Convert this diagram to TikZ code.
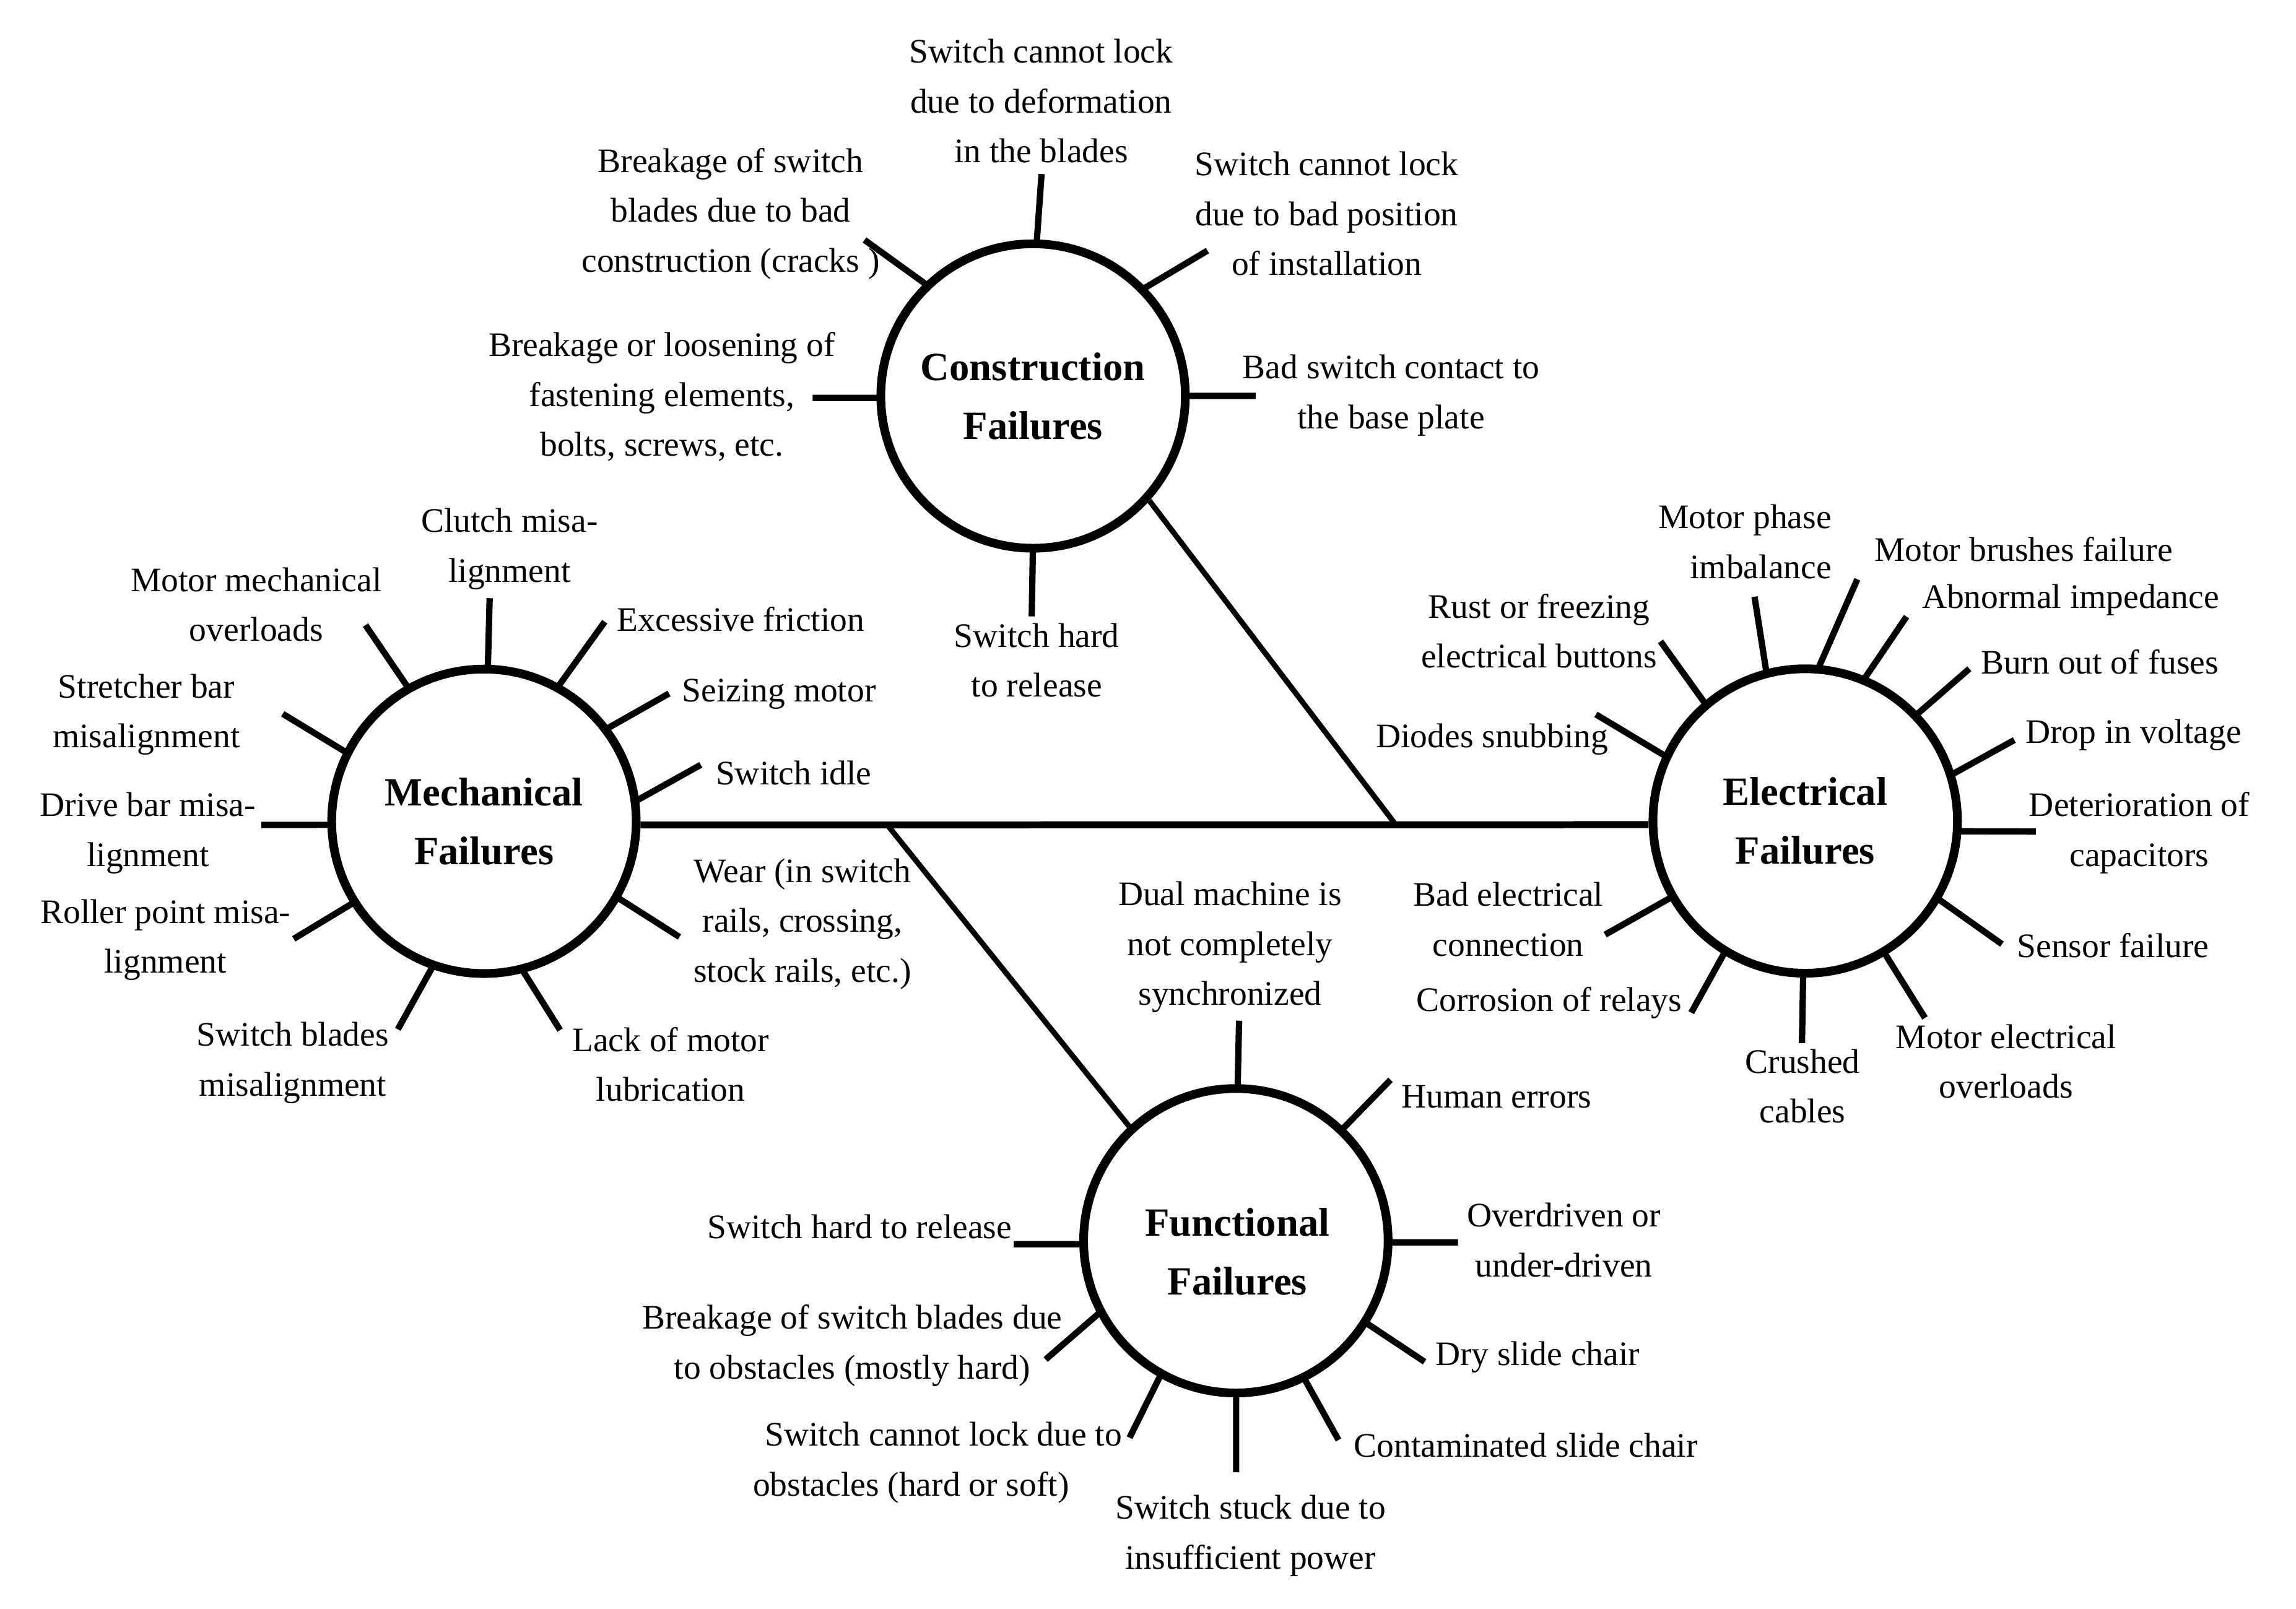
\documentclass[tikz,border=0pt]{standalone}
\usepackage{fontspec}
\setmainfont{Liberation Serif}
\usetikzlibrary{calc}
\newcommand\spk[3]{\draw[spokeline] ($(#1.center)!2.42cm!(#2)$) -- (#3);}
\begin{document}
\begin{tikzpicture}[x=0.023648cm, y=-0.023648cm,
  hub/.style={circle, draw, line width=4pt, minimum size=4.918cm, inner sep=0pt, align=center, font=\bfseries\fontsize{18.4}{27}\selectfont},
  hubtext/.style={inner sep=0pt, align=center, font=\bfseries\fontsize{18.4}{27}\selectfont},
  lbl/.style={align=center, inner sep=0pt, font=\fontsize{15.8}{22.9}\selectfont},
  spokeline/.style={line width=2.9pt},
  trunk/.style={line width=3.2pt},
  branch/.style={line width=2.5pt}]
\useasboundingbox[fill=white] (0,0) rectangle (1568,1099);

% hubs
\node[hub] (con) at (705.5,270.5) {Construction\\Failures};
\node[hub] (mec) at (330.5,561) {Mechanical\\Failures};
\node[hub] (ele) at (1232.8,560.8) {Electrical\\Failures};
\node[hub] (fun) at (844,847.5) {};
\node[hubtext] (funtext) at (845,855) {Functional\\Failures};

% trunk and branches
\coordinate (mR) at ($(mec.east)+(0,2.5)$);
\coordinate (eL) at ($(ele.west)+(0,2.5)$);
\coordinate (j1) at (953.3,563.5);
\coordinate (j2) at (606,563.5);
\draw[trunk] (mR) -- (eL);
\draw[branch] (con.-42) -- (j1);
\draw[branch] (j2) -- (fun.133);

% construction spokes
\spk{con}{707.9,163.9}{711.3,118.9}
\spk{con}{632.6,193.5}{590.4,163.9}
\spk{con}{782.3,194.9}{824.6,171.2}
\spk{con}{600,271.8}{555,271.8}
\spk{con}{810,270.4}{857.5,270.4}
\spk{con}{705.4,377.6}{704.6,421}

% mechanical spokes
\spk{mec}{333.2,454.4}{334.4,408.6}
\spk{mec}{278,468}{249.6,427}
\spk{mec}{382.5,465.8}{413,424.7}
\spk{mec}{416.8,495.5}{456.9,473.7}
\spk{mec}{436,547.9}{478.6,522.4}
\spk{mec}{234.9,513.4}{193.1,487.6}
\spk{mec}{224.5,563.5}{178.5,563.5}
\spk{mec}{240.4,617.3}{200.6,641.3}
\spk{mec}{294.7,664}{271.7,703.1}
\spk{mec}{356.6,665.4}{382.5,703.6}
\spk{mec}{424.3,614.4}{464,640}

% electrical spokes
\spk{ele}{1163.4,479.7}{1134,438.1}
\spk{ele}{1136.1,516.2}{1089.9,488}
\spk{ele}{1205.4,456.8}{1198.2,407.6}
\spk{ele}{1241.1,454.4}{1268.4,395.7}
\spk{ele}{1273.9,460.4}{1302,421.2}
\spk{ele}{1310.4,486.5}{1344.9,456.8}
\spk{ele}{1334.4,529.2}{1375.6,505.5}
\spk{ele}{1337.7,568}{1390.3,568}
\spk{ele}{1325.1,614.6}{1367.2,644.9}
\spk{ele}{1288.6,653.8}{1314.6,695.3}
\spk{ele}{1231.4,668}{1230.6,712.5}
\spk{ele}{1176,653.2}{1155,691.7}
\spk{ele}{1141.1,613.1}{1096.2,638.4}

% functional spokes
\spk{fun}{845.2,740.9}{846.2,697.2}
\spk{fun}{918,770}{949.6,737.6}
\spk{fun}{949.6,848.6}{995.7,848.6}
\spk{fun}{738.4,849.9}{692.3,849.9}
\spk{fun}{932.6,903.3}{972.9,930.2}
\spk{fun}{891.3,943.1}{914.1,983.6}
\spk{fun}{844.2,953.8}{844.2,1005.6}
\spk{fun}{790.8,942.2}{771.4,982}
\spk{fun}{747.2,897.8}{714.1,928.6}

% construction labels
\node[lbl] (c1) at (711,69) {Switch cannot lock\\due to deformation\\in the blades};
\node[lbl] (c2) at (499,146) {Breakage of switch\\blades due to bad\\construction (cracks )};
\node[lbl] (c3) at (906,146) {Switch cannot lock\\due to bad position\\of installation};
\node[lbl] (c4) at (452,271) {Breakage or loosening of\\fastening elements,\\bolts, screws, etc.};
\node[lbl] (c5) at (950,270) {Bad switch contact to\\the base plate};
\node[lbl] (c6) at (708,451) {Switch hard\\to release};

% mechanical labels
\node[lbl] (m1) at (348,375) {Clutch misa-\\lignment};
\node[lbl] (m2) at (175,413) {Motor mechanical\\overloads};
\node[lbl] (m3) at (506,423) {Excessive friction};
\node[lbl] (m4) at (532,474) {Seizing motor};
\node[lbl] (m5) at (100,488) {Stretcher bar\\misalignment};
\node[lbl] (m6) at (542,528) {Switch idle};
\node[lbl] (m7) at (101,569) {Drive bar misa-\\lignment};
\node[lbl] (m8) at (548,631) {Wear (in switch\\rails, crossing,\\stock rails, etc.)};
\node[lbl] (m9) at (113,642) {Roller point misa-\\lignment};
\node[lbl] (m10) at (200,726) {Switch blades\\misalignment};
\node[lbl] (m11) at (458,727) {Lack of motor\\lubrication};

% electrical labels
\node[lbl, align=right, anchor=east] (e1) at (1251,370) {Motor phase\\imbalance};
\node[lbl] (e2) at (1382,375) {Motor brushes failure};
\node[lbl] (e3) at (1414,410) {Abnormal impedance};
\node[lbl] (e4) at (1051,431) {Rust or freezing\\electrical buttons};
\node[lbl] (e5) at (1434,452) {Burn out of fuses};
\node[lbl] (e6) at (1019,505) {Diodes snubbing};
\node[lbl] (e7) at (1457,502) {Drop in voltage};
\node[lbl] (e8) at (1461,569) {Deterioration of\\capacitors};
\node[lbl] (e9) at (1030,628) {Bad electrical\\connection};
\node[lbl] (e10) at (1443,646) {Sensor failure};
\node[lbl] (e11) at (1058,685) {Corrosion of relays};
\node[lbl] (e12) at (1231,742) {Crushed\\cables};
\node[lbl] (e13) at (1370,725) {Motor electrical\\overloads};

% functional labels
\node[lbl] (f1) at (840,647) {Dual machine is\\not completely\\synchronized};
\node[lbl] (f2) at (1022,749) {Human errors};
\node[lbl] (f3) at (1068,847) {Overdriven or\\under-driven};
\node[lbl] (f4) at (587,838) {Switch hard to release};
\node[lbl] (f5) at (582,919) {Breakage of switch blades due\\to obstacles (mostly hard)};
\node[lbl] (f6) at (1050,927) {Dry slide chair};
\node[lbl, align=left, anchor=west] (f7) at (514,999) {\hspace*{0.19cm}Switch cannot lock due to\\obstacles (hard or soft)};
\node[lbl] (f8) at (1042,987) {Contaminated slide chair};
\node[lbl] (f9) at (854,1049) {Switch stuck due to\\insufficient power};
\end{tikzpicture}
\end{document}
